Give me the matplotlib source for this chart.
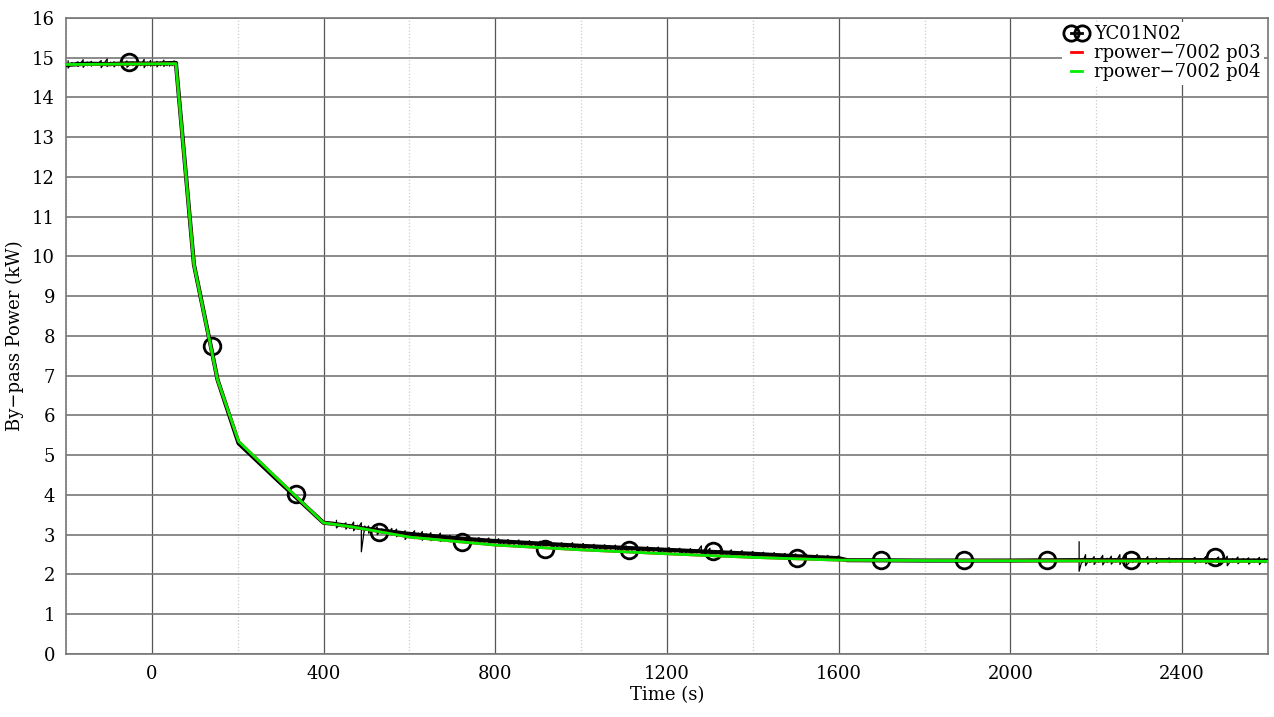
import matplotlib
matplotlib.use("Agg")
import matplotlib.pyplot as plt
from matplotlib.lines import Line2D
from matplotlib.ticker import MultipleLocator

plt.rcParams['font.family'] = ['DejaVu Serif']
plt.rcParams['font.size'] = 12

# measured by-pass power, YC01N02 (main trace)
yc_t = [-200, -150, -100, -50, 0, 56, 98, 140, 153, 202, 300, 400, 420, 500,
        600, 700, 800, 900, 1000, 1100, 1200, 1300, 1400, 1500, 1600, 1620,
        1800, 2000, 2150, 2300, 2450, 2600]
yc_v = [14.82, 14.85, 14.84, 14.86, 14.85, 14.87, 9.8, 7.6, 6.9, 5.3, 4.3,
        3.3, 3.28, 3.15, 3.02, 2.92, 2.84, 2.78, 2.72, 2.67, 2.62, 2.57, 2.52,
        2.46, 2.41, 2.36, 2.35, 2.35, 2.36, 2.36, 2.36, 2.35]

# circle markers on the measured trace
mark_t = [-53, 140, 335, 528, 723, 916, 1112, 1307, 1502, 1698, 1891, 2086,
          2281, 2477]
mark_v = [14.89, 7.75, 4.03, 3.07, 2.82, 2.64, 2.62, 2.59, 2.42, 2.36, 2.36,
          2.36, 2.36, 2.44]

# noise excursions of the measured trace: before the ramp-down
front_t = [-195, -186, -172, -160, -150, -141, -130, -118, -104, -96, -88,
           -78, -70, -58, -44, -35, -26, -18, -10, -3, 5, 12, 20, 28, 35, 41,
           47, 52]
front_lo = [14.74, 14.8, 14.78, 14.76, 14.8, 14.79, 14.81, 14.75, 14.78,
            14.8, 14.77, 14.8, 14.79, 14.76, 14.8, 14.78, 14.8, 14.75, 14.8,
            14.79, 14.8, 14.77, 14.8, 14.78, 14.8, 14.79, 14.8, 14.8]
front_hi = [14.92, 14.88, 14.9, 14.95, 14.89, 14.91, 14.88, 14.93, 14.97,
            14.89, 14.9, 14.88, 14.94, 14.92, 14.89, 14.9, 14.88, 14.96,
            14.89, 14.93, 14.88, 14.91, 14.89, 14.94, 14.88, 14.9, 14.88,
            14.92]

# ... during the slow decay
mid_t = [430, 441, 452, 461, 470, 479, 488, 496, 505, 515, 525, 536, 548,
         559, 570, 580, 590, 601, 612, 621, 630, 640, 650, 661, 672, 684,
         695, 705, 715, 728, 740, 751, 762, 774, 785, 797, 808, 819, 830,
         843, 855, 868, 880, 893, 905, 918, 930, 943, 955, 968, 980, 993,
         1005, 1018, 1030, 1043, 1055, 1068, 1080, 1093, 1105, 1118, 1130,
         1143, 1155, 1168, 1180, 1193, 1205, 1218, 1230, 1243, 1255, 1268,
         1280, 1290, 1300, 1313, 1325, 1338, 1350, 1363, 1375, 1388, 1400,
         1413, 1425, 1438, 1450, 1463, 1475, 1488, 1500, 1513, 1525, 1538,
         1550, 1563, 1575, 1588, 1600, 1612]
mid_lo = [3.17, 3.2, 3.14, 3.16, 3.1, 3.15, 2.57, 3.1, 3.04, 3.08, 3.0,
          3.04, 2.98, 3.0, 2.95, 2.98, 2.88, 2.95, 2.9, 2.93, 2.86, 2.92,
          2.85, 2.89, 2.83, 2.88, 2.82, 2.86, 2.8, 2.84, 2.8, 2.82, 2.77,
          2.8, 2.76, 2.79, 2.73, 2.77, 2.72, 2.75, 2.7, 2.74, 2.69, 2.72,
          2.67, 2.71, 2.67, 2.7, 2.65, 2.68, 2.63, 2.67, 2.62, 2.66, 2.61,
          2.64, 2.6, 2.63, 2.58, 2.62, 2.57, 2.61, 2.56, 2.59, 2.55, 2.58,
          2.54, 2.57, 2.52, 2.56, 2.51, 2.55, 2.5, 2.54, 2.49, 2.52, 2.48,
          2.51, 2.46, 2.5, 2.45, 2.49, 2.44, 2.47, 2.42, 2.46, 2.41, 2.45,
          2.4, 2.44, 2.39, 2.42, 2.38, 2.41, 2.37, 2.4, 2.36, 2.39, 2.35,
          2.38, 2.34, 2.35]
mid_hi = [3.36, 3.28, 3.3, 3.26, 3.32, 3.24, 3.3, 3.22, 3.22, 3.18, 3.2,
          3.15, 3.14, 3.16, 3.14, 3.08, 3.1, 3.05, 3.1, 3.04, 3.08, 3.02,
          3.05, 2.99, 3.04, 2.96, 2.98, 2.95, 2.98, 2.93, 2.96, 2.9, 2.93,
          2.88, 2.92, 2.87, 2.9, 2.85, 2.88, 2.83, 2.87, 2.81, 2.85, 2.8,
          2.84, 2.78, 2.82, 2.77, 2.8, 2.76, 2.8, 2.74, 2.78, 2.73, 2.76,
          2.72, 2.75, 2.71, 2.74, 2.69, 2.72, 2.68, 2.71, 2.67, 2.7, 2.66,
          2.69, 2.64, 2.68, 2.63, 2.66, 2.62, 2.65, 2.61, 2.72, 2.6, 2.66,
          2.58, 2.62, 2.57, 2.62, 2.56, 2.6, 2.55, 2.58, 2.53, 2.56, 2.52,
          2.55, 2.51, 2.53, 2.5, 2.52, 2.49, 2.51, 2.48, 2.5, 2.46, 2.48,
          2.45, 2.47, 2.4]

# ... near the end of the run
end_t = [2160, 2168, 2175, 2185, 2195, 2205, 2215, 2225, 2235, 2245, 2255,
         2262, 2270, 2285, 2300, 2310, 2320, 2330, 2340, 2355, 2370, 2385,
         2400, 2415, 2430, 2443, 2455, 2470, 2485, 2495, 2505, 2518, 2530,
         2543, 2555, 2568, 2580, 2592]
end_lo = [2.08, 2.3, 2.22, 2.3, 2.25, 2.31, 2.24, 2.3, 2.26, 2.31, 2.25,
          2.3, 2.22, 2.3, 2.25, 2.31, 2.26, 2.31, 2.28, 2.32, 2.3, 2.32, 2.3,
          2.32, 2.28, 2.31, 2.27, 2.31, 2.25, 2.3, 2.22, 2.3, 2.27, 2.31,
          2.26, 2.3, 2.25, 2.3]
end_hi = [2.82, 2.4, 2.5, 2.4, 2.45, 2.4, 2.48, 2.41, 2.46, 2.4, 2.5, 2.41,
          2.47, 2.4, 2.46, 2.4, 2.45, 2.39, 2.42, 2.39, 2.42, 2.39, 2.41,
          2.39, 2.43, 2.4, 2.45, 2.4, 2.44, 2.41, 2.46, 2.4, 2.44, 2.4, 2.42,
          2.39, 2.43, 2.4]

# model results
p03_t = [-200, 56, 98, 153, 202, 400, 465, 600, 800, 1000, 1200, 1400, 1600,
         1800, 2600]
p03_v = [14.83, 14.85, 9.8, 6.9, 5.35, 3.3, 3.2, 2.94, 2.74, 2.62, 2.52,
         2.43, 2.36, 2.35, 2.33]
p04_t = [-200, 56, 98, 153, 202, 400, 465, 600, 800, 1000, 1200, 1400, 1600,
         1800, 2600]
p04_v = [14.83, 14.85, 9.8, 6.9, 5.35, 3.3, 3.2, 2.94, 2.74, 2.62, 2.52,
         2.43, 2.36, 2.35, 2.33]


def zigzag(ts, lo, hi):
    # trace that swings between the low and high excursion at each time
    zt, zv = [], []
    for t, a, b in zip(ts, lo, hi):
        zt += [t, t]
        zv += [b, a]
    return zt, zv


fig = plt.figure(figsize=(12.74, 7.17), dpi=100)
ax = fig.add_axes([0.0518, 0.0879, 0.9435, 0.887])

ax.plot(yc_t, yc_v, color='k', lw=3, zorder=3)
for ts, lo, hi in [(front_t, front_lo, front_hi), (mid_t, mid_lo, mid_hi),
                   (end_t, end_lo, end_hi)]:
    zt, zv = zigzag(ts, lo, hi)
    ax.plot(zt, zv, color='k', lw=0.9, zorder=3)
ax.plot(mark_t, mark_v, ls='none', marker='o', ms=12, mfc='none',
        mec='k', mew=2, zorder=4)
ax.plot(p03_t, p03_v, color='#ff0000', lw=2, zorder=5)
ax.plot(p04_t, p04_v, color='#00ee00', lw=2, zorder=6)

ax.set_xlim(-200, 2600)
ax.set_ylim(0, 16)
ax.xaxis.set_major_locator(MultipleLocator(400))
ax.xaxis.set_minor_locator(MultipleLocator(200))
ax.yaxis.set_major_locator(MultipleLocator(1))
ax.grid(which='major', axis='x', color='#555555', lw=0.9)
ax.grid(which='minor', axis='x', color='#cccccc', lw=0.9, ls=':')
ax.grid(which='major', axis='y', color='#777777', lw=1.2)
ax.set_axisbelow(True)
ax.tick_params(which='both', length=0, labelsize=13, pad=8)
for sp in ax.spines.values():
    sp.set_color('#777777')
    sp.set_linewidth(1.2)

ax.set_xlabel('Time (s)', fontsize=13, labelpad=2)
ax.set_ylabel('By\u2212pass Power (kW)', fontsize=13, labelpad=6)

handles = [
    Line2D([], [], color='k', lw=2, marker='o', ms=11, mfc='none', mew=2),
    Line2D([], [], color='#ff0000', lw=2),
    Line2D([], [], color='#00ee00', lw=2),
]
labels = ['YC01N02', 'rpower\u22127002 p03', 'rpower\u22127002 p04']
leg = ax.legend(handles, labels, loc='upper right', numpoints=2,
                handlelength=1.2, handletextpad=0.4, labelspacing=0.05,
                borderaxespad=0.2, fontsize=13, frameon=True,
                fancybox=False, framealpha=1, borderpad=0.2)
leg.get_frame().set_edgecolor('none')
leg.get_frame().set_facecolor('white')

fig.savefig('out.png', dpi=100)
